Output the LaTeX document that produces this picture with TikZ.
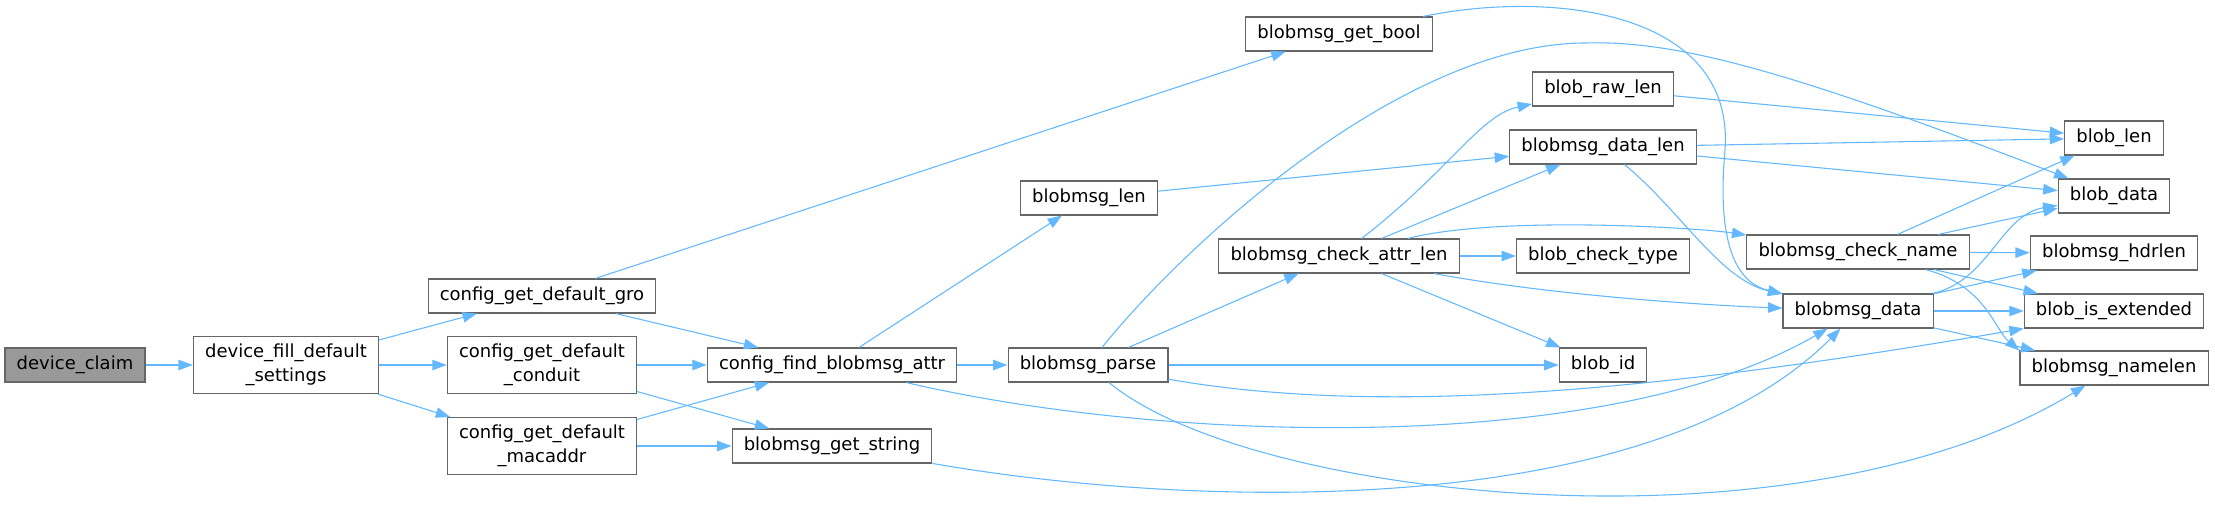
\documentclass[tikz,border=0pt]{standalone}
\usepackage{fontspec}
\setmainfont{DejaVu Sans}
\usetikzlibrary{arrows.meta}
\definecolor{EdgeBlue}{RGB}{99,184,255}
\definecolor{BoxGrey}{RGB}{102,102,102}
\definecolor{RootFill}{RGB}{153,153,153}

\begin{document}
\begin{tikzpicture}[x=0.5556pt, y=-0.5556pt,
  every node/.style={font=\fontsize{10}{13.3}\selectfont, align=center},
  fn/.style={draw=BoxGrey, line width=0.6pt, fill=white, inner xsep=6.5pt, inner ysep=0pt, minimum height=18.9pt},
  fn2/.style={fn, minimum height=31.7pt},
  call/.style={-{Triangle[length=8pt, width=5.8pt]}, EdgeBlue, line width=0.6pt}]
  \useasboundingbox (0,0) rectangle (2215,505);
  % functions, column by column
  \node[fn, fill=RootFill] (claim) at (75,365) {device\_claim};
  \node[fn2] (fill) at (286,365) {device\_fill\_default\\\_settings};
  \node[fn] (gro) at (542,296) {config\_get\_default\_gro};
  \node[fn2] (conduit) at (542,365) {config\_get\_default\\\_conduit};
  \node[fn2] (mac) at (542,446) {config\_get\_default\\\_macaddr};
  \node[fn] (find) at (832,365) {config\_find\_blobmsg\_attr};
  \node[fn] (getstr) at (832,446) {blobmsg\_get\_string};
  \node[fn] (mlen) at (1089,198) {blobmsg\_len};
  \node[fn] (parse) at (1088,365) {blobmsg\_parse};
  \node[fn] (getbool) at (1339,34) {blobmsg\_get\_bool};
  \node[fn] (chkattr) at (1339,256) {blobmsg\_check\_attr\_len};
  \node[fn] (rawlen) at (1603,89) {blob\_raw\_len};
  \node[fn] (dlen) at (1603,147) {blobmsg\_data\_len};
  \node[fn] (chktype) at (1603,256) {blob\_check\_type};
  \node[fn] (bid) at (1603,365) {blob\_id};
  \node[fn] (chkname) at (1858,252) {blobmsg\_check\_name};
  \node[fn] (mdata) at (1858,311) {blobmsg\_data};
  \node[fn] (blen) at (2114,138) {blob\_len};
  \node[fn] (bdata) at (2114,196) {blob\_data};
  \node[fn] (hdr) at (2114,253) {blobmsg\_hdrlen};
  \node[fn] (isext) at (2114,311) {blob\_is\_extended};
  \node[fn] (nlen) at (2114,368) {blobmsg\_namelen};
  % calls
  \draw[call] (claim) -- (fill);
  \draw[call] (fill) -- (gro);
  \draw[call] (fill) -- (conduit);
  \draw[call] (fill) -- (mac);
  \draw[call] (gro) -- (getbool);
  \draw[call] (gro) -- (find);
  \draw[call] (conduit) -- (find);
  \draw[call] (conduit) -- (getstr);
  \draw[call] (mac) -- (find);
  \draw[call] (mac) -- (getstr);
  \draw[call] (find) -- (mlen);
  \draw[call] (find) -- (parse);
  \draw[call] (find) .. controls (1150,440) and (1600,460) .. (mdata);
  \draw[call] (getbool) .. controls (1550,-10) and (1735,10) .. (1725,150) .. controls (1715,260) and (1745,285) .. (mdata);
  \draw[call] (getstr) .. controls (1200,510) and (1650,520) .. (mdata);
  \draw[call] (mlen) -- (dlen);
  \draw[call] (parse) .. controls (1180,250) and (1400,43) .. (1586,43) .. controls (1680,40) and (1800,75) .. (bdata);
  \draw[call] (parse) -- (chkattr);
  \draw[call] (parse) -- (bid);
  \draw[call] (parse) .. controls (1400,420) and (1700,384) .. (isext.south west);
  \draw[call] (parse) .. controls (1250,500) and (1800,560) .. (nlen);
  \draw[call] (chkattr) .. controls (1450,170) and (1480,115) .. (rawlen);
  \draw[call] (chkattr) -- (dlen);
  \draw[call] (chkattr) .. controls (1500,215) and (1700,228) .. (chkname);
  \draw[call] (chkattr) -- (chktype);
  \draw[call] (chkattr) .. controls (1550,295) and (1700,305) .. (mdata);
  \draw[call] (chkattr) -- (bid);
  \draw[call] (rawlen) -- (blen);
  \draw[call] (dlen) -- (blen);
  \draw[call] (dlen) -- (bdata);
  \draw[call] (dlen) .. controls (1680,210) and (1720,280) .. (mdata);
  \draw[call] (chkname) -- (blen);
  \draw[call] (chkname) -- (bdata);
  \draw[call] (chkname) -- (hdr);
  \draw[call] (chkname) -- (isext);
  \draw[call] (chkname) .. controls (1985,285) and (1995,330) .. (nlen.north west);
  \draw[call] (mdata) .. controls (1990,280) and (2000,215) .. (bdata);
  \draw[call] (mdata) -- (hdr);
  \draw[call] (mdata) -- (isext);
  \draw[call] (mdata) -- (nlen);
\end{tikzpicture}
\end{document}
